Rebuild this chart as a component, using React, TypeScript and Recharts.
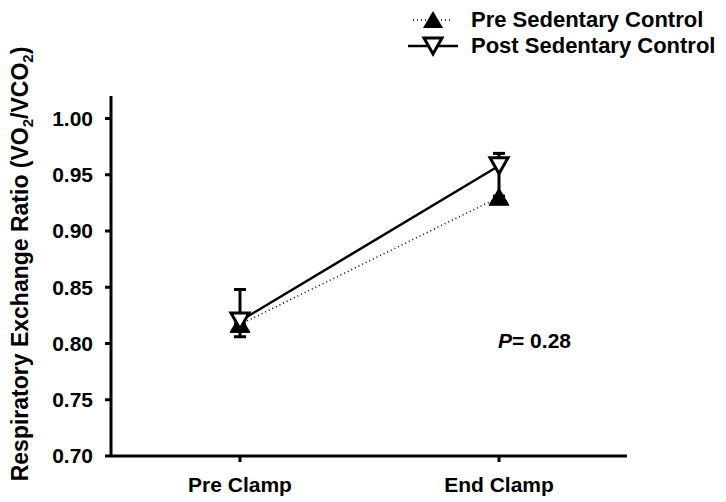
import { ErrorBar, Line, LineChart, XAxis, YAxis } from "recharts";

const categories = ["Pre Clamp", "End Clamp"];
const preValues = [0.817, 0.93];
const postValues = [0.82, 0.958];
// [below, above]
const preErrors = [[0.011, 0], [0, 0]];
const postErrors = [[0, 0.028], [0.027, 0.011]];
const yTicks = [0.7, 0.75, 0.8, 0.85, 0.9, 0.95, 1.0];

const data = categories.map((name, i) => ({
    name,
    pre: preValues[i],
    post: postValues[i],
    preErr: preErrors[i],
    postErr: postErrors[i],
}));

const font = "'Liberation Sans', Arial, sans-serif";

const upTriangle = (cx: number, cy: number) =>
    `M${cx},${cy - 9} L${cx + 10},${cy + 8} L${cx - 10},${cy + 8} Z`;
const downTriangle = (cx: number, cy: number) =>
    `M${cx - 9},${cy - 8} L${cx + 9},${cy - 8} L${cx},${cy + 8} Z`;

const PreDot = (props: any) => {
    const { cx, cy, index } = props;
    return <path key={`pre-${index}`} d={upTriangle(cx, cy)} fill="#000" stroke="#000" strokeWidth={1} />;
};

const PostDot = (props: any) => {
    const { cx, cy, index } = props;
    return <path key={`post-${index}`} d={downTriangle(cx, cy)} fill="#fff" stroke="#000" strokeWidth={3} />;
};

const App = () => {
    const tickStyle = { fill: "#000", fontSize: 21, fontWeight: "bold", fontFamily: font };
    return (
        <div style={{ position: "relative", width: 718, height: 494 }}>
            <LineChart width={718} height={494} data={data} margin={{ top: 88, right: 99, bottom: 0, left: 0 }}>
                <XAxis
                    dataKey="name"
                    height={46}
                    padding={{ left: 129, right: 128 }}
                    axisLine={{ stroke: "#000", strokeWidth: 3 }}
                    tickLine={{ stroke: "#000", strokeWidth: 3 }}
                    tickSize={6}
                    tickMargin={15}
                    tick={tickStyle}
                />
                <YAxis
                    width={103}
                    domain={[0.7, 1.02]}
                    ticks={yTicks}
                    tickFormatter={(v: number) => v.toFixed(2)}
                    axisLine={{ stroke: "#000", strokeWidth: 3 }}
                    tickLine={{ stroke: "#000", strokeWidth: 3 }}
                    tickSize={6}
                    tickMargin={12}
                    tick={tickStyle}
                />
                <Line
                    dataKey="pre"
                    stroke="#000"
                    strokeWidth={1.5}
                    strokeDasharray="1 3"
                    dot={PreDot}
                    activeDot={false}
                    isAnimationActive={false}
                >
                    <ErrorBar dataKey="preErr" width={6} stroke="#000" strokeWidth={3} direction="y" />
                </Line>
                <Line
                    dataKey="post"
                    stroke="#000"
                    strokeWidth={2.5}
                    dot={PostDot}
                    activeDot={false}
                    isAnimationActive={false}
                >
                    <ErrorBar dataKey="postErr" width={6} stroke="#000" strokeWidth={3} direction="y" />
                </Line>
            </LineChart>
            <svg width={718} height={494} style={{ position: "absolute", left: 0, top: 0, pointerEvents: "none" }}>
                {/* legend */}
                <line x1={405} y1={12} x2={445} y2={12} stroke="#000" strokeWidth={1.5} strokeDasharray="1 3" />
                <path d={upTriangle(425, 12)} fill="#000" />
                <text x={463} y={19} fontFamily={font} fontWeight="bold" fontSize={22} fill="#000">Pre Sedentary Control</text>
                <line x1={400} y1={38} x2={450} y2={38} stroke="#000" strokeWidth={2.5} />
                <path d={downTriangle(425, 38)} fill="#fff" stroke="#000" strokeWidth={3} />
                <text x={463} y={45} fontFamily={font} fontWeight="bold" fontSize={22} fill="#000">Post Sedentary Control</text>

                <text
                    transform="translate(20, 256) rotate(-90)"
                    textAnchor="middle"
                    fontFamily={font}
                    fontWeight="bold"
                    fontSize={23}
                    fill="#000"
                >
                    Respiratory Exchange Ratio (VO<tspan fontSize={15} dy={5}>2</tspan>
                    <tspan dy={-5}>/VCO</tspan>
                    <tspan fontSize={15} dy={5}>2</tspan>
                    <tspan dy={-5}>)</tspan>
                </text>
                <text x={490} y={340} fontFamily={font} fontWeight="bold" fontSize={21} fill="#000">
                    <tspan fontStyle="italic">P</tspan>= 0.28
                </text>
            </svg>
        </div>
    );
};

export default App;
